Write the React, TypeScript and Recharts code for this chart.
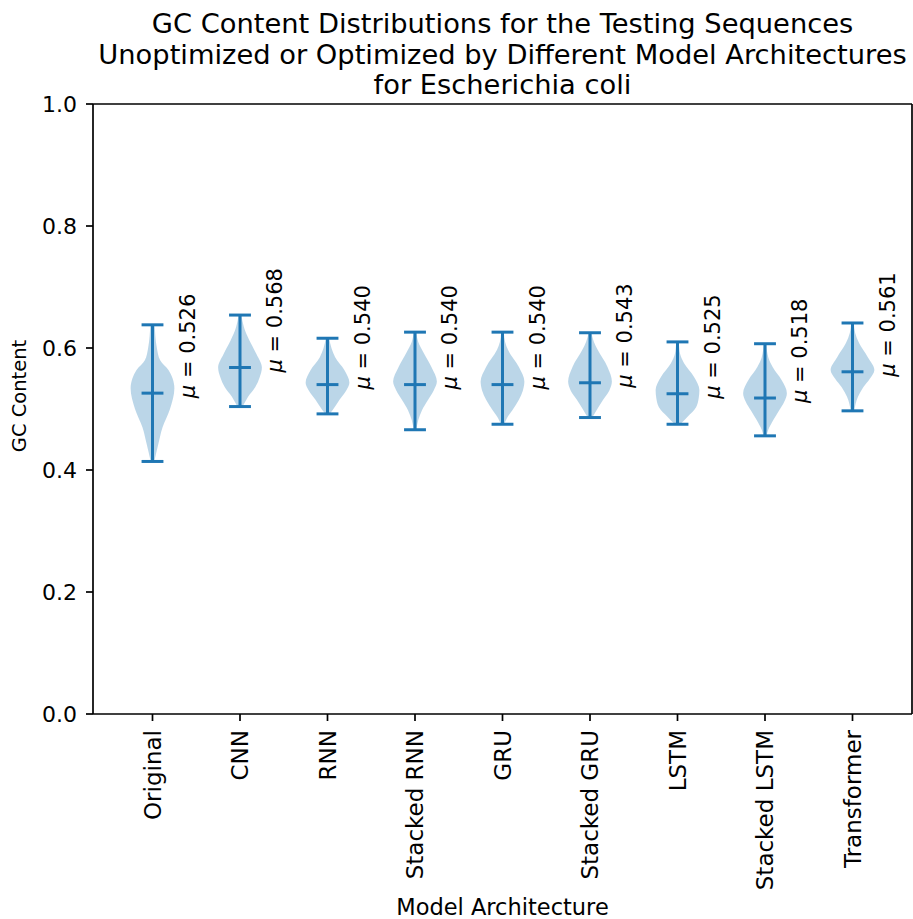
import React from "react";
import {
  Area,
  ComposedChart,
  Customized,
  Label,
  ReferenceDot,
  ReferenceLine,
  XAxis,
  YAxis,
} from "recharts";

const CATEGORIES = [
  "Original",
  "CNN",
  "RNN",
  "Stacked RNN",
  "GRU",
  "Stacked GRU",
  "LSTM",
  "Stacked LSTM",
  "Transformer",
];
const MEANS = [0.526, 0.568, 0.54, 0.54, 0.54, 0.543, 0.525, 0.518, 0.561];
const MINS = [0.414, 0.504, 0.492, 0.466, 0.475, 0.486, 0.475, 0.456, 0.497];
const MAXS = [0.638, 0.654, 0.616, 0.626, 0.626, 0.625, 0.61, 0.607, 0.641];
const Y_TICKS = [0, 0.2, 0.4, 0.6, 0.8, 1.0];

// violin outlines: [gc content, relative half width]
const ORIGINAL_PROFILE = [[0.414, 0.08], [0.44, 0.25], [0.47, 0.46], [0.5, 0.8], [0.534, 1.0], [0.55, 0.92], [0.564, 0.73], [0.58, 0.35], [0.6, 0.2], [0.638, 0.1]];
const CNN_PROFILE = [[0.504, 0.12], [0.52, 0.37], [0.536, 0.7], [0.552, 0.9], [0.568, 1.0], [0.59, 0.75], [0.613, 0.42], [0.634, 0.18], [0.654, 0.06]];
const RNN_PROFILE = [[0.492, 0.1], [0.498, 0.23], [0.515, 0.55], [0.53, 0.85], [0.543, 1.0], [0.564, 0.77], [0.585, 0.35], [0.6, 0.18], [0.616, 0.08]];
const STACKED_RNN_PROFILE = [[0.466, 0.06], [0.482, 0.15], [0.498, 0.32], [0.515, 0.6], [0.53, 0.85], [0.545, 1.0], [0.569, 0.75], [0.592, 0.4], [0.61, 0.15], [0.626, 0.06]];
const GRU_PROFILE = [[0.475, 0.08], [0.485, 0.2], [0.498, 0.45], [0.515, 0.75], [0.53, 0.93], [0.545, 1.0], [0.569, 0.75], [0.597, 0.25], [0.61, 0.12], [0.626, 0.06]];
const STACKED_GRU_PROFILE = [[0.486, 0.1], [0.498, 0.3], [0.515, 0.6], [0.53, 0.88], [0.545, 1.0], [0.569, 0.8], [0.597, 0.35], [0.61, 0.18], [0.625, 0.06]];
const LSTM_PROFILE = [[0.475, 0.12], [0.487, 0.45], [0.503, 0.85], [0.518, 0.97], [0.531, 1.0], [0.553, 0.75], [0.575, 0.3], [0.59, 0.12], [0.61, 0.06]];
const STACKED_LSTM_PROFILE = [[0.456, 0.07], [0.466, 0.15], [0.482, 0.38], [0.498, 0.65], [0.512, 0.88], [0.526, 1.0], [0.548, 0.75], [0.569, 0.35], [0.585, 0.15], [0.607, 0.06]];
const TRANSFORMER_PROFILE = [[0.497, 0.08], [0.52, 0.25], [0.536, 0.5], [0.55, 0.8], [0.564, 1.0], [0.585, 0.7], [0.608, 0.3], [0.625, 0.12], [0.641, 0.06]];

const PROFILES = [
  ORIGINAL_PROFILE,
  CNN_PROFILE,
  RNN_PROFILE,
  STACKED_RNN_PROFILE,
  GRU_PROFILE,
  STACKED_GRU_PROFILE,
  LSTM_PROFILE,
  STACKED_LSTM_PROFILE,
  TRANSFORMER_PROFILE,
];

const BLUE = "#1f77b4";
const FONT = "'DejaVu Sans', sans-serif";
const X_DOMAIN: [number, number] = [0.32, 9.68];
const VIOLIN_HALF = 0.25;
const CAP_HALF = 0.125;
const LABEL_SHIFT = 0.4;
const POSITIONS = CATEGORIES.map((_, i) => i + 1);

const violinData = PROFILES.map((profile, i) =>
  profile.map(([gc, w]) => ({
    gc,
    span: [POSITIONS[i] - w * VIOLIN_HALF, POSITIONS[i] + w * VIOLIN_HALF],
  }))
);

function XTick({ x, y, payload }: any) {
  return (
    <text
      transform={`translate(${x},${y + 9}) rotate(-90)`}
      textAnchor="end"
      dominantBaseline="central"
      fontSize={23}
      fontFamily={FONT}
      fill="#000"
    >
      {CATEGORIES[payload.value - 1]}
    </text>
  );
}

function Title() {
  const lines = [
    "GC Content Distributions for the Testing Sequences",
    "Unoptimized or Optimized by Different Model Architectures",
    "for Escherichia coli",
  ];
  return (
    <g>
      {lines.map((t, i) => (
        <text
          key={t}
          x={502.5}
          y={33 + i * 30.5}
          textAnchor="middle"
          fontSize={27.3}
          fontFamily={FONT}
          fill="#000"
        >
          {t}
        </text>
      ))}
    </g>
  );
}

export default function App() {
  return (
    <div style={{ position: "absolute", left: 0, top: 0, background: "#fff" }}>
      <ComposedChart
        width={913}
        height={919}
        layout="vertical"
        margin={{ top: 104, right: 1, left: 0, bottom: 0 }}
        style={{ fontFamily: FONT }}
      >
        <XAxis
          type="number"
          domain={X_DOMAIN}
          ticks={POSITIONS}
          interval={0}
          allowDataOverflow
          height={205}
          tickSize={7}
          tickMargin={0}
          tick={<XTick />}
          axisLine={{ stroke: "#000", strokeWidth: 1.7 }}
          tickLine={{ stroke: "#000", strokeWidth: 1.7 }}
        >
          <Label
            content={({ viewBox }: any) => (
              <text
                x={viewBox.x + viewBox.width / 2}
                y={915}
                textAnchor="middle"
                fontSize={22.5}
                fontFamily={FONT}
                fill="#000"
              >
                Model Architecture
              </text>
            )}
          />
        </XAxis>
        <YAxis
          type="number"
          dataKey="gc"
          domain={[0, 1]}
          ticks={Y_TICKS}
          reversed
          allowDataOverflow
          width={93}
          tickSize={7}
          tickMargin={9}
          tickFormatter={(v: number) => v.toFixed(1)}
          tick={{ fill: "#000", fontSize: 22, fontFamily: FONT }}
          axisLine={{ stroke: "#000", strokeWidth: 1.7 }}
          tickLine={{ stroke: "#000", strokeWidth: 1.7 }}
        >
          <Label
            content={({ viewBox }: any) => (
              <text
                transform={`translate(${viewBox.x + 19},${viewBox.y + viewBox.height / 2 - 13}) rotate(-90)`}
                textAnchor="middle"
                dominantBaseline="central"
                fontSize={19.5}
                fontFamily={FONT}
                fill="#000"
              >
                GC Content
              </text>
            )}
          />
        </YAxis>
        <ReferenceLine y={1} stroke="#000" strokeWidth={1.7} />
        <ReferenceLine x={X_DOMAIN[1]} stroke="#000" strokeWidth={1.7} />

        {violinData.map((d, i) => (
          <Area
            key={CATEGORIES[i]}
            data={d}
            dataKey="span"
            type="monotone"
            fill={BLUE}
            fillOpacity={0.3}
            stroke="none"
            dot={false}
            activeDot={false}
            isAnimationActive={false}
          />
        ))}

        {POSITIONS.map((p, i) => (
          <ReferenceLine
            key={`stem-${i}`}
            segment={[{ x: p, y: MINS[i] }, { x: p, y: MAXS[i] }]}
            stroke={BLUE}
            strokeWidth={3}
          />
        ))}
        {POSITIONS.map((p, i) =>
          [MINS[i], MAXS[i], MEANS[i]].map((v, k) => (
            <ReferenceLine
              key={`cap-${i}-${k}`}
              segment={[{ x: p - CAP_HALF, y: v }, { x: p + CAP_HALF, y: v }]}
              stroke={BLUE}
              strokeWidth={3}
            />
          ))
        )}
        {POSITIONS.map((p, i) => (
          <ReferenceDot
            key={`mu-${i}`}
            x={p + LABEL_SHIFT}
            y={MEANS[i]}
            r={0}
            shape={(props: any) => (
              <text
                transform={`translate(${props.cx},${props.cy + 5}) rotate(-90)`}
                dominantBaseline="central"
                fontSize={21}
                fontFamily={FONT}
                fill="#000"
              >
                <tspan fontStyle="italic">μ</tspan> = {MEANS[i].toFixed(3)}
              </text>
            )}
          />
        ))}
        <Customized component={Title} />
      </ComposedChart>
    </div>
  );
}
